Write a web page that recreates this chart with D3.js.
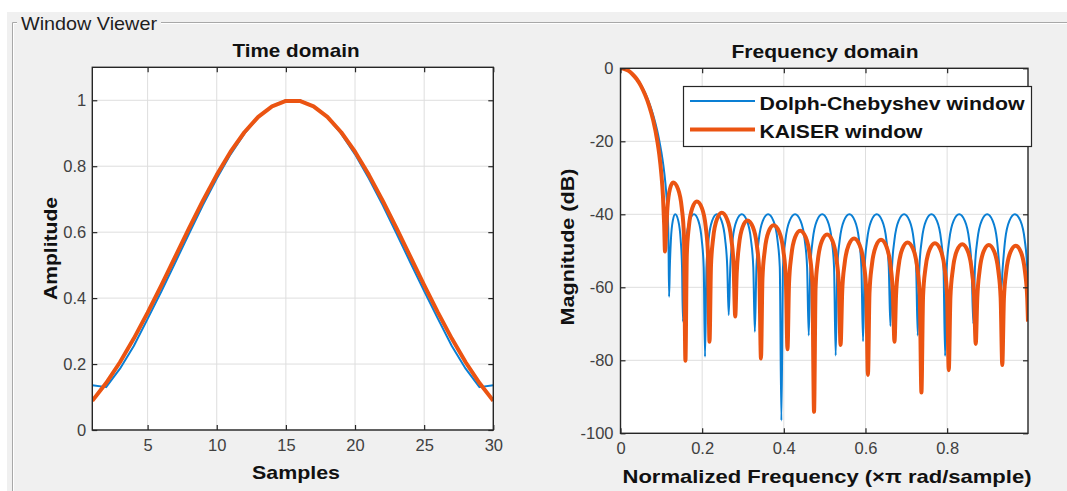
<!DOCTYPE html>
<html>
<head>
<meta charset="utf-8">
<script src="https://cdn.jsdelivr.net/npm/d3@7"></script>
<style>
  body { margin: 0; background: #ffffff; }
  svg { display: block; }
  text { font-family: "Liberation Sans", Arial, Helvetica, sans-serif; }
</style>
</head>
<body>
<svg id="chart" width="1067" height="491"></svg>
<script>
// ---------------- DATA ----------------
const panelTitle = "Window Viewer";
const timeTitle = "Time domain";
const freqTitle = "Frequency domain";
const seriesNames = ["Dolph-Chebyshev window", "KAISER window"];

const samples = [1,2,3,4,5,6,7,8,9,10,11,12,13,14,15,16,17,18,19,20,21,22,23,24,25,26,27,28,29,30];
const chebTime = [0.136,0.130,0.186,0.255,0.337,0.421,0.508,0.596,0.682,0.763,0.836,0.899,0.948,0.982,1.000,
                  1.000,0.982,0.948,0.899,0.836,0.763,0.682,0.596,0.508,0.421,0.337,0.255,0.186,0.130,0.136];
const kaiserTime = [0.0885,0.1423,0.2055,0.2773,0.3560,0.4396,0.5259,0.6122,0.6957,0.7739,0.8440,0.9031,0.9497,0.9817,0.9979,
                    0.9979,0.9817,0.9497,0.9031,0.8440,0.7739,0.6957,0.6122,0.5259,0.4396,0.3560,0.2773,0.2055,0.1423,0.0885];

const chebFreq = [0,0.01,0.02,0.03,0.04,0.05,0.06,0.07,0.08,0.09,0.095,0.1,0.105,0.11,0.113,0.1156,0.1175,0.119,
  0.1208,0.1235,0.128,0.134,0.1416,0.1473,0.1507,0.153,
  0.1562,0.1611,0.1692,0.1800,0.1908,0.1989,0.2038,0.207,
  0.2105,0.2157,0.2244,0.2360,0.2476,0.2563,0.2615,0.265,
  0.2688,0.2746,0.2842,0.2970,0.3098,0.3194,0.3252,0.329,
  0.3329,0.3388,0.3485,0.3615,0.3745,0.3843,0.3901,0.394,
  0.3980,0.4041,0.4141,0.4275,0.4409,0.4510,0.4570,0.461,
  0.4650,0.4709,0.4808,0.4940,0.5072,0.5171,0.5230,0.527,
  0.5310,0.5371,0.5471,0.5605,0.5739,0.5840,0.5900,0.594,
  0.5980,0.6041,0.6141,0.6275,0.6409,0.6510,0.6570,0.661,
  0.6650,0.6711,0.6811,0.6945,0.7079,0.7180,0.7240,0.728,
  0.7320,0.7381,0.7481,0.7615,0.7749,0.7850,0.7910,0.795,
  0.7991,0.8054,0.8157,0.8295,0.8433,0.8537,0.8599,0.864,
  0.8681,0.8742,0.8844,0.8980,0.9116,0.9218,0.9279,0.932,
  0.9361,0.9422,0.9524,0.9660,0.9796,0.9898,0.9959,0.998];
const chebDb = [0,-0.2,-0.7,-1.6,-2.8,-4.5,-6.7,-9.4,-12.8,-17.1,-19.8,-22.9,-26.6,-31.5,-35.5,-40,-47,-62.6,
  -54.5,-46.9,-41.8,-40,-41.8,-46.9,-54.5,-69.4,
  -54.5,-46.9,-41.8,-40,-41.8,-46.9,-54.5,-79,
  -54.5,-46.9,-41.8,-40,-41.8,-46.9,-54.5,-67.6,
  -54.5,-46.9,-41.8,-40,-41.8,-46.9,-54.5,-72.2,
  -54.5,-46.9,-41.8,-40,-41.8,-46.9,-54.5,-96.5,
  -54.5,-46.9,-41.8,-40,-41.8,-46.9,-54.5,-73.2,
  -54.5,-46.9,-41.8,-40,-41.8,-46.9,-54.5,-78.7,
  -54.5,-46.9,-41.8,-40,-41.8,-46.9,-54.5,-74.8,
  -54.5,-46.9,-41.8,-40,-41.8,-46.9,-54.5,-70.6,
  -54.5,-46.9,-41.8,-40,-41.8,-46.9,-54.5,-73.2,
  -54.5,-46.9,-41.8,-40,-41.8,-46.9,-54.5,-78.8,
  -54.5,-46.9,-41.8,-40,-41.8,-46.9,-54.5,-70,
  -54.5,-46.9,-41.8,-40,-41.8,-46.9,-54.5,-61,
  -54.5,-46.9,-41.8,-40,-41.8,-46.9,-54.5,-60.6];

const kaiserFreq = [0,0.01,0.02,0.03,0.04,0.05,0.06,0.07,0.08,0.09,0.095,0.1,0.104,0.107,0.109,
  0.1114,0.115,0.121,0.129,0.141,0.150,0.1554,0.159,
  0.1624,0.1674,0.1758,0.187,0.1994,0.2087,0.2143,0.218,
  0.2216,0.227,0.236,0.248,0.2612,0.2711,0.277,0.281,
  0.2846,0.290,0.299,0.311,0.3242,0.3341,0.340,0.344,
  0.3477,0.3533,0.3626,0.375,0.3886,0.3988,0.4049,0.409,
  0.4127,0.4183,0.4276,0.440,0.4536,0.4638,0.4699,0.474,
  0.4778,0.4836,0.4932,0.506,0.5192,0.5291,0.535,0.539,
  0.543,0.5489,0.5588,0.572,0.5856,0.5958,0.6019,0.606,
  0.6098,0.6156,0.6252,0.638,0.6512,0.6611,0.667,0.671,
  0.6748,0.6806,0.6902,0.703,0.7166,0.7268,0.7329,0.737,
  0.741,0.7469,0.7568,0.770,0.7836,0.7938,0.7999,0.804,
  0.808,0.8139,0.8238,0.837,0.8502,0.8601,0.866,0.870,
  0.8738,0.8796,0.8892,0.902,0.9152,0.9251,0.931,0.935,
  0.939,0.9449,0.9548,0.968,0.9808,0.9904,0.9962,0.998];
const kaiserDb = [0,-0.2,-0.7,-1.7,-3.0,-4.8,-7.2,-10.2,-14.2,-19.8,-23.6,-28.9,-35,-43,-50.2,
  -45.8,-38.2,-33.1,-31.3,-33.1,-38.2,-45.8,-80.1,
  -51.0,-43.4,-38.3,-36.5,-38.3,-43.4,-51.0,-74.9,
  -54.1,-46.5,-41.4,-39.6,-41.4,-46.5,-54.1,-68,
  -56.2,-48.6,-43.5,-41.7,-43.5,-48.6,-56.2,-79.5,
  -57.5,-49.9,-44.8,-43.0,-44.8,-49.9,-57.5,-77,
  -59.0,-51.4,-46.3,-44.5,-46.3,-51.4,-59.0,-94.1,
  -60.0,-52.4,-47.3,-45.5,-47.3,-52.4,-60.0,-75.8,
  -61.1,-53.5,-48.4,-46.6,-48.4,-53.5,-61.1,-84,
  -61.5,-53.9,-48.8,-47.0,-48.8,-53.9,-61.5,-74.9,
  -62.2,-54.6,-49.5,-47.7,-49.5,-54.6,-62.2,-88.8,
  -62.4,-54.8,-49.7,-47.9,-49.7,-54.8,-62.4,-82.7,
  -62.7,-55.1,-50.0,-48.2,-50.0,-55.1,-62.7,-75.5,
  -62.9,-55.3,-50.2,-48.4,-50.2,-55.3,-62.9,-81.3,
  -63.1,-55.5,-50.4,-48.6,-50.4,-55.5,-63.1,-69.4];

const timeXTicks = [5,10,15,20,25,30];
const timeYTicks = [0,0.2,0.4,0.6,0.8,1];
const freqXTicks = [0,0.2,0.4,0.6,0.8];
const freqYTicks = [0,-20,-40,-60,-80,-100];

// ---------------- STYLE ----------------
const BLUE = "#0a7fd4";
const ORANGE = "#eb5412";
const AX = "#262626";
const TICKTXT = "#404040";
const GRID = "#dedede";

const svg = d3.select("#chart");

// panel background + etched border
svg.append("rect").attr("x", 7).attr("y", 12).attr("width", 1060).attr("height", 479).attr("fill", "#f0f0f0");
svg.append("path").attr("d", "M12.5,491V22.5H1067").attr("fill", "none").attr("stroke", "#a8a8a8");
svg.append("path").attr("d", "M13.5,491V23.5H1067").attr("fill", "none").attr("stroke", "#ffffff");
svg.append("rect").attr("x", 17).attr("y", 13).attr("width", 144).attr("height", 20).attr("fill", "#f0f0f0");
svg.append("text").attr("x", 21).attr("y", 30).attr("font-size", 19).attr("fill", "#1e1e1e")
  .attr("textLength", 136).attr("lengthAdjust", "spacingAndGlyphs").text(panelTitle);

function drawAxes(cfg) {
  const x = d3.scaleLinear().domain(cfg.xDomain).range([cfg.left, cfg.right]);
  const y = d3.scaleLinear().domain(cfg.yDomain).range([cfg.bottom, cfg.top]);
  const g = svg.append("g");
  g.append("rect").attr("x", cfg.left).attr("y", cfg.top)
    .attr("width", cfg.right - cfg.left).attr("height", cfg.bottom - cfg.top).attr("fill", "#ffffff");

  // grid
  g.append("g").selectAll("line").data(cfg.xTicks).join("line")
    .attr("x1", d => x(d)).attr("x2", d => x(d)).attr("y1", cfg.top).attr("y2", cfg.bottom)
    .attr("stroke", GRID).attr("stroke-width", 1);
  g.append("g").selectAll("line").data(cfg.yTicks).join("line")
    .attr("y1", d => y(d)).attr("y2", d => y(d)).attr("x1", cfg.left).attr("x2", cfg.right)
    .attr("stroke", GRID).attr("stroke-width", 1);

  // clip
  const clipId = "clip" + cfg.id;
  svg.append("clipPath").attr("id", clipId).append("rect")
    .attr("x", cfg.left).attr("y", cfg.top).attr("width", cfg.right - cfg.left).attr("height", cfg.bottom - cfg.top);

  const data = g.append("g").attr("clip-path", `url(#${clipId})`);
  cfg.series.forEach(s => {
    const pts = s.xs.map((v, i) => [v, s.ys[i]]);
    data.append("path").datum(pts)
      .attr("fill", "none").attr("stroke", s.color).attr("stroke-width", s.width)
      .attr("stroke-linejoin", "round").attr("stroke-linecap", "butt")
      .attr("d", d3.line().x(d => x(d[0])).y(d => y(d[1])).curve(cfg.curve));
  });

  // axes with inward ticks
  const fontSize = 16.5;
  const bottomAx = g.append("g").attr("transform", `translate(0,${cfg.bottom})`)
    .call(d3.axisBottom(x).tickValues(cfg.xTicks).tickSize(-5).tickSizeOuter(0).tickPadding(cfg.xPad).tickFormat(cfg.xFmt));
  const leftAx = g.append("g").attr("transform", `translate(${cfg.left},0)`)
    .call(d3.axisLeft(y).tickValues(cfg.yTicks).tickSize(-5).tickSizeOuter(0).tickPadding(cfg.yPad).tickFormat(cfg.yFmt));
  const topAx = g.append("g").attr("transform", `translate(0,${cfg.top})`)
    .call(d3.axisTop(x).tickValues(cfg.xTicks).tickSize(-5).tickSizeOuter(0).tickFormat(""));
  const rightAx = g.append("g").attr("transform", `translate(${cfg.right},0)`)
    .call(d3.axisRight(y).tickValues(cfg.yTicks).tickSize(-5).tickSizeOuter(0).tickFormat(""));
  [bottomAx, leftAx, topAx, rightAx].forEach(a => {
    a.select(".domain").remove();
    a.selectAll("line").attr("stroke", AX).attr("stroke-width", 1.2);
    a.selectAll("text").attr("font-size", fontSize).attr("fill", TICKTXT)
      .attr("font-family", '"Liberation Sans", Arial, sans-serif');
  });

  // box
  g.append("rect").attr("x", cfg.left).attr("y", cfg.top)
    .attr("width", cfg.right - cfg.left).attr("height", cfg.bottom - cfg.top)
    .attr("fill", "none").attr("stroke", AX).attr("stroke-width", 1.4);

  // title
  g.append("text").attr("x", cfg.titleX).attr("y", cfg.titleY).attr("text-anchor", "middle")
    .attr("font-size", 19).attr("font-weight", "bold").attr("fill", "#111")
    .attr("textLength", cfg.titleW).attr("lengthAdjust", "spacingAndGlyphs").text(cfg.title);
  // x label
  g.append("text").attr("x", cfg.xlabX).attr("y", cfg.xlabY).attr("text-anchor", "middle")
    .attr("font-size", 19).attr("font-weight", "bold").attr("fill", "#111")
    .attr("textLength", cfg.xlabW).attr("lengthAdjust", "spacingAndGlyphs").text(cfg.xlab);
  // y label
  g.append("text").attr("transform", `translate(${cfg.ylabX},${cfg.ylabY}) rotate(-90)`)
    .attr("text-anchor", "middle")
    .attr("font-size", 19).attr("font-weight", "bold").attr("fill", "#111")
    .attr("textLength", cfg.ylabW).attr("lengthAdjust", "spacingAndGlyphs").text(cfg.ylab);
  return {x, y, g};
}

drawAxes({
  id: "t", left: 92.3, right: 493.3, top: 67.3, bottom: 430,
  xDomain: [1, 30], yDomain: [0, 1.1],
  xTicks: timeXTicks, yTicks: timeYTicks,
  xFmt: d => String(d), yFmt: d => String(d),
  xPad: 9, yPad: 6,
  curve: d3.curveLinear,
  series: [
    {xs: samples, ys: chebTime, color: BLUE, width: 2.0},
    {xs: samples, ys: kaiserTime, color: ORANGE, width: 4.0}
  ],
  title: timeTitle, titleX: 296, titleY: 57, titleW: 127,
  xlab: "Samples", xlabX: 296, xlabY: 479, xlabW: 88,
  ylab: "Amplitude", ylabX: 57, ylabY: 248.5, ylabW: 103
});

drawAxes({
  id: "f", left: 620.5, right: 1028, top: 68.3, bottom: 433.3,
  xDomain: [0, 0.998], yDomain: [-100, 0],
  xTicks: freqXTicks, yTicks: freqYTicks,
  xFmt: d => String(d), yFmt: d => String(d),
  xPad: 9, yPad: 7,
  curve: d3.curveMonotoneX,
  series: [
    {xs: chebFreq, ys: chebDb, color: BLUE, width: 2.0},
    {xs: kaiserFreq, ys: kaiserDb, color: ORANGE, width: 4.0}
  ],
  title: freqTitle, titleX: 825, titleY: 58, titleW: 187,
  xlab: "Normalized Frequency  (\u00d7\u03c0 rad/sample)", xlabX: 827, xlabY: 483, xlabW: 409,
  ylab: "Magnitude (dB)", ylabX: 574, ylabY: 247, ylabW: 157
});

// legend
const leg = svg.append("g");
leg.append("rect").attr("x", 683.5).attr("y", 86.5).attr("width", 348).attr("height", 60)
  .attr("fill", "#ffffff").attr("stroke", AX).attr("stroke-width", 1.2);
const legItems = [
  {name: seriesNames[0], color: BLUE, width: 2.0, y: 101, w: 265},
  {name: seriesNames[1], color: ORANGE, width: 4.0, y: 129.5, w: 163}
];
legItems.forEach(it => {
  leg.append("line").attr("x1", 690).attr("x2", 755).attr("y1", it.y).attr("y2", it.y)
    .attr("stroke", it.color).attr("stroke-width", it.width);
  leg.append("text").attr("x", 759.5).attr("y", it.y + 8.5)
    .attr("font-size", 19).attr("font-weight", "bold").attr("fill", "#111")
    .attr("textLength", it.w).attr("lengthAdjust", "spacingAndGlyphs").text(it.name);
});
</script>
</body>
</html>
